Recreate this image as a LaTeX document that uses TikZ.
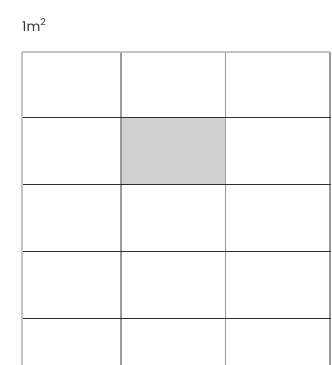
\documentclass[tikz,border=0pt]{standalone}
\usepackage{fontspec}
\setsansfont{Poppins}
\usepackage{xcolor}
\usepackage{tikz}
\usetikzlibrary{positioning}
\definecolor{grlight}{HTML}{C4C4C4}
\definecolor{grmid}{HTML}{9A9A9A}
\definecolor{grdark}{HTML}{2E2E2E}
\definecolor{grfill}{HTML}{D1D1D1}
\definecolor{grtext}{HTML}{333333}
\tikzset{
  gridvert/.style={draw=grmid, line width=1.1bp},
  gridhorz/.style={draw=grdark, line width=1bp},
  gridedge/.style={draw=grlight, line width=1.1bp},
  unitcell/.style={fill=grfill, draw=grmid, line width=0.8bp},
  unitlabel/.style={font=\sffamily\fontsize{13.5}{15}\selectfont, text=grtext, anchor=base west, inner sep=0pt}
}

\begin{document}
\begin{tikzpicture}[x=1bp, y=-1bp]
  \useasboundingbox (0,0) rectangle (332,365);
  % shaded square metre
  \fill[unitcell] (121,117.5) rectangle (225.5,184.5);
  % grid lines
  \foreach \gx in {121,225.5,330}
    \draw[gridvert] (\gx,52) -- (\gx,365);
  \foreach \gy in {117.5,184.5,251.5,318.5}
    \draw[gridhorz] (22,\gy) -- (331,\gy);
  \draw[gridedge] (22,52) -- (330,52);
  \draw[gridedge] (22,52) -- (22,365);
  \node[unitlabel] (unit) at (22,31) {1m\textsuperscript{2}};
\end{tikzpicture}
\end{document}
